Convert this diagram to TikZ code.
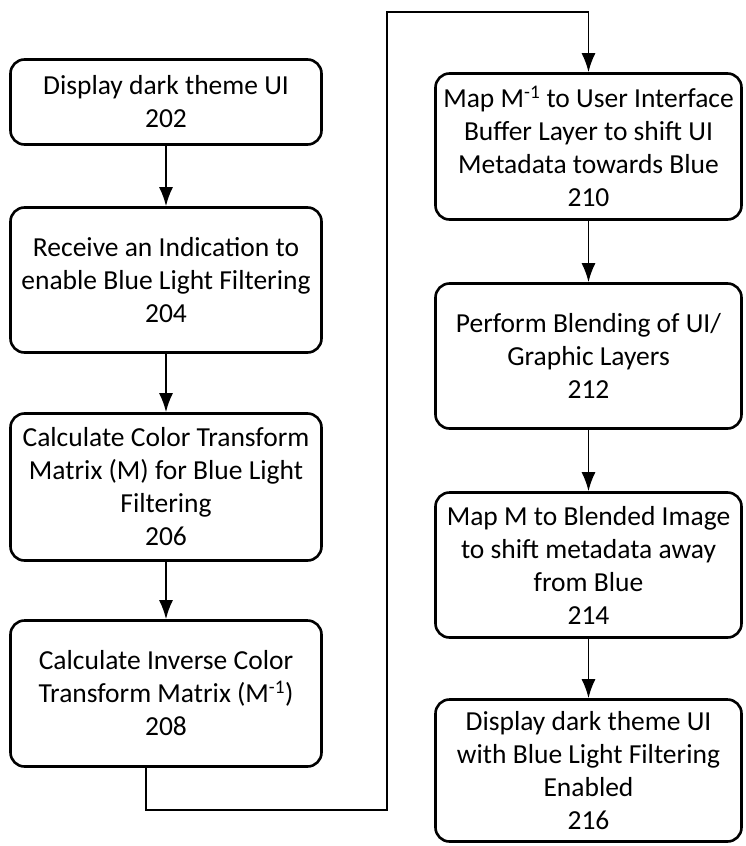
\documentclass[tikz,border=0pt]{standalone}
\usepackage{fontspec}
\setmainfont{Carlito}
\usetikzlibrary{arrows.meta}

\begin{document}
\begin{tikzpicture}[x=1pt, y=-1pt,
        font=\fontsize{27.5}{33}\selectfont,
        schritt/.style={draw, line width=2.6pt, rounded corners=14pt,
            align=center, inner sep=0pt},
        links/.style={schritt, minimum width=311pt},
        rechts/.style={schritt, minimum width=306pt},
        >={Latex[length=19pt,width=14pt]} % Pfeilspitzen
        ]
            \useasboundingbox (0,0) rectangle (745,846);

            % Schritte, linke Spalte
            \node (s202) [links, minimum height=85pt] at (166,102)
                {Display dark theme UI\\202};
            \node (s204) [links, minimum height=145pt] at (166,280)
                {Receive an Indication to\\enable Blue Light Filtering\\204};
            \node (s206) [links, minimum height=147pt] at (166,487)
                {Calculate Color Transform\\Matrix (M) for Blue Light\\Filtering\\206};
            \node (s208) [links, minimum height=146pt] at (166,693.5)
                {Calculate Inverse Color\\Transform Matrix (M\textsuperscript{-1})\\208};

            % Schritte, rechte Spalte
            \node (s210) [rechts, minimum height=146pt] at (588.5,146.5)
                {Map M\textsuperscript{-1} to User Interface\\Buffer Layer to shift UI\\Metadata towards Blue\\210};
            \node (s212) [rechts, minimum height=145pt] at (588.5,356)
                {Perform Blending of UI/\\Graphic Layers\\212};
            \node (s214) [rechts, minimum height=145pt] at (588.5,565)
                {Map M to Blended Image\\to shift metadata away\\from Blue\\214};
            \node (s216) [rechts, minimum height=142pt] at (588.5,770.5)
                {Display dark theme UI\\with Blue Light Filtering\\Enabled\\216};

            % Knickpunkte
            \coordinate (k1) at (146,810);
            \coordinate (k2) at (387,12);

            % Verbindungen
            \draw [line width=1.8pt, ->]
                    (s202) edge (s204)
                    (s204) edge (s206)
                    (s206) edge (s208)
                    (s210) edge (s212)
                    (s212) edge (s214)
                    (s214) edge (s216);
            \draw [line width=1.8pt, ->]
                    (s208.south -| k1) |- (k2 |- k1)
                    |- (s210.north |- k2) -- (s210.north);

        \end{tikzpicture}
\end{document}
